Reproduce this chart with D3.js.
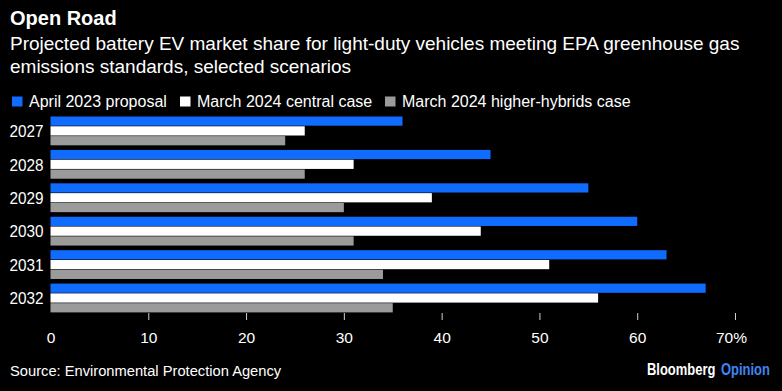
<!DOCTYPE html>
<html lang="en">
<head>
<meta charset="UTF-8">
<title>Open Road</title>
<script src="https://d3js.org/d3.v7.min.js"></script>
<style>
  html, body { margin: 0; padding: 0; background: #000; }
  svg { display: block; }
  text { font-family: "Liberation Sans", Arial, sans-serif; fill: #fff; }
</style>
</head>
<body>
<svg width="782" height="391"></svg>
<script>
// data
const years = ["2027", "2028", "2029", "2030", "2031", "2032"];
const seriesNames = ["April 2023 proposal", "March 2024 central case", "March 2024 higher-hybrids case"];
const april2023 = [36, 45, 55, 60, 63, 67];
const march2024Central = [26, 31, 39, 44, 51, 56];
const march2024Hybrids = [24, 26, 30, 31, 34, 35];
const tickValues = [0, 10, 20, 30, 40, 50, 60, 70];
const colors = ["#0f6cff", "#ffffff", "#9b9b9b"];

const seriesValues = [april2023, march2024Central, march2024Hybrids];

var svg = d3.select("svg");

// title block
svg.append("text")
    .attr("x", 10).attr("y", 24.5)
    .style("font-size", "20px").style("font-weight", "bold")
    .text("Open Road");

var sub = ["Projected battery EV market share for light-duty vehicles meeting EPA greenhouse gas",
           "emissions standards, selected scenarios"];
svg.selectAll(".sub").data(sub).enter().append("text")
    .attr("class", "sub")
    .attr("x", 10)
    .attr("y", (d, i) => 49.5 + i * 23.5)
    .style("font-size", "19px")
    .text(d => d);

// legend
var legendX = [12, 180, 385];
var legend = svg.selectAll(".legend").data(seriesNames).enter().append("g")
    .attr("class", "legend")
    .attr("transform", (d, i) => "translate(" + legendX[i] + ",96.5)");
legend.append("rect")
    .attr("width", 10.5).attr("height", 10)
    .attr("fill", (d, i) => colors[i]);
legend.append("text")
    .attr("x", 17).attr("y", 10.5)
    .style("font-size", "16px")
    .text(d => d);

// scales
var x = d3.scaleLinear().domain([0, 70]).range([50.5, 735]);
var y = d3.scaleBand().domain(years).range([116.5, 313]).paddingInner(0.12).paddingOuter(0);
var ySub = d3.scaleBand().domain(d3.range(3)).range([0, y.bandwidth()]);

var groups = svg.append("g").selectAll("g")
    .data(years).enter().append("g")
    .attr("transform", d => "translate(0," + y(d) + ")");

groups.selectAll("rect")
    .data((d, i) => seriesValues.map((s, k) => ({ k: k, v: s[i] })))
    .enter().append("rect")
    .attr("x", x(0))
    .attr("y", d => ySub(d.k))
    .attr("width", d => x(d.v) - x(0))
    .attr("height", ySub.bandwidth() - 0.6)
    .attr("fill", d => colors[d.k]);

// year labels (slightly condensed like the original)
svg.append("g").selectAll("text")
    .data(years).enter().append("text")
    .attr("transform", d => "translate(43.5," + (y(d) + y.bandwidth() / 2 + 6) + ") scale(0.9,1)")
    .attr("text-anchor", "end")
    .style("font-size", "17px")
    .text(d => d);

// x axis
var xAxis = d3.axisBottom(x)
    .tickValues(tickValues)
    .tickSize(7)
    .tickPadding(12)
    .tickFormat(d => d === 70 ? "70%" : d);

var ax = svg.append("g")
    .attr("transform", "translate(0,313)")
    .call(xAxis);
ax.select(".domain").remove();
ax.selectAll(".tick line").attr("stroke", "#cfcfcf")
    .filter(d => d === 0).remove();
ax.selectAll(".tick text")
    .attr("fill", "#fff")
    .style("font-family", null)
    .style("font-size", "15.5px")
    .filter(d => d === 70).attr("dx", -4);

// footer
svg.append("text")
    .attr("transform", "translate(10,375.5) scale(0.98,1)")
    .style("font-size", "15px")
    .text("Source: Environmental Protection Agency");

// brand mark, condensed bold
var brandWords = [
  { t: "Bloomberg", x: 647, c: "#ffffff" },
  { t: "Opinion", x: 721, c: "#3f86f2" }
];
svg.selectAll(".brand").data(brandWords).enter().append("text")
    .attr("class", "brand")
    .attr("transform", d => "translate(" + d.x + ",375) scale(0.81,1)")
    .style("font-size", "16px")
    .style("font-weight", "bold")
    .style("fill", d => d.c)
    .text(d => d.t);
</script>
</body>
</html>
